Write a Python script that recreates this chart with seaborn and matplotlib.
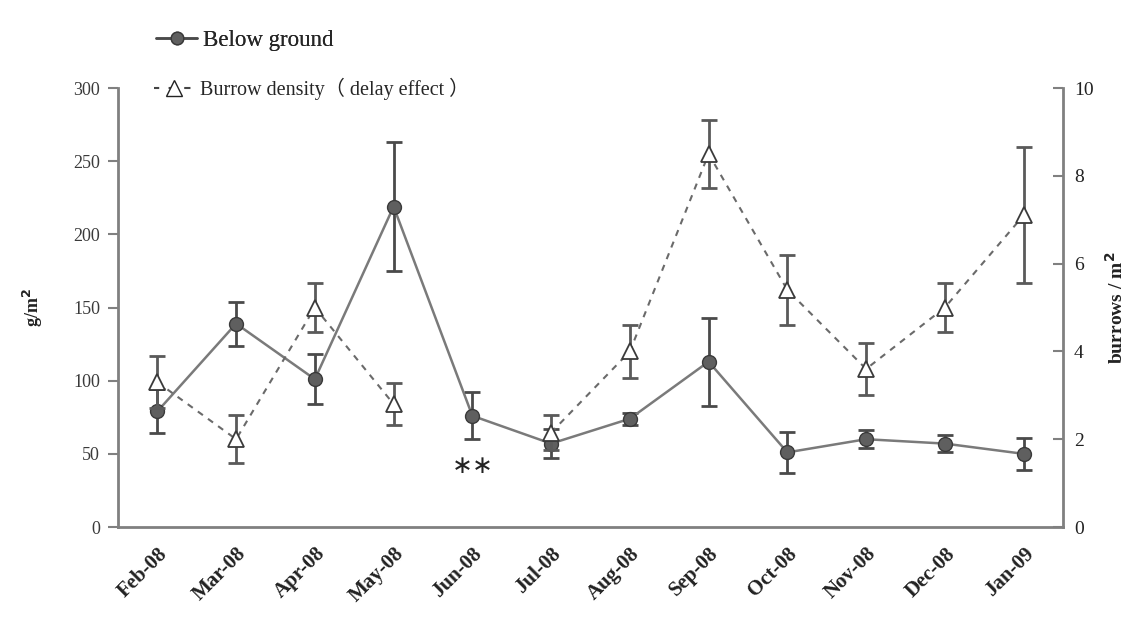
import numpy as np
import pandas as pd
import matplotlib
matplotlib.use("Agg")
import matplotlib.pyplot as plt
from matplotlib.lines import Line2D
import seaborn as sns

months = ["Feb-08", "Mar-08", "Apr-08", "May-08", "Jun-08", "Jul-08",
          "Aug-08", "Sep-08", "Oct-08", "Nov-08", "Dec-08", "Jan-09"]
below_ground = [79, 139, 101, 219, 76, 57, 74, 113, 51, 60, 57, 50]
below_ground_err = [15, 15, 17, 44, 16, 10, 4, 30, 14, 6, 6, 11]
burrow_density = [3.3, 2.0, 5.0, 2.8, np.nan, 2.15, 4.0, 8.5, 5.4, 3.6, 5.0, 7.1]
burrow_density_err = [0.6, 0.55, 0.55, 0.47, np.nan, 0.4, 0.6, 0.78, 0.79, 0.6, 0.56, 1.55]

sns.set_theme(style="white")
plt.rcParams["font.family"] = ["Liberation Serif", "Noto Sans CJK SC", "DejaVu Sans"]

GRAY = "#808080"
pos = np.arange(len(months))

df_bg = pd.DataFrame({"pos": pos, "value": below_ground})
# break the dashed series where a month has no value
seg = np.cumsum(np.isnan(burrow_density))
df_bd = pd.DataFrame({"pos": pos, "value": burrow_density, "seg": seg}).dropna()

fig = plt.figure(figsize=(11.3, 6.2), dpi=100)
ax = fig.add_axes([0.1044, 0.15, 0.8363, 0.708])
ax2 = ax.twinx()

# below-ground biomass (left axis)
ax.errorbar(pos, below_ground, yerr=below_ground_err, fmt="none",
            ecolor="#4a4a4a", elinewidth=2, capsize=6, capthick=2, zorder=2)
sns.lineplot(data=df_bg, x="pos", y="value", ax=ax, color="#7a7a7a",
             linewidth=1.8, marker="o", markersize=10,
             markerfacecolor="#5f5f5f", markeredgecolor="#3a3a3a",
             markeredgewidth=1, zorder=3, legend=False)

# burrow density (right axis)
ax2.errorbar(pos, burrow_density, yerr=burrow_density_err, fmt="none",
             ecolor="#5a5a5a", elinewidth=2, capsize=6, capthick=2, zorder=2)
sns.lineplot(data=df_bd, x="pos", y="value", units="seg", estimator=None,
             ax=ax2, color="#6a6a6a", linewidth=1.5, linestyle=(0, (3, 3)),
             marker="^", markersize=12, markerfacecolor="white",
             markeredgecolor="#3a3a3a", markeredgewidth=1.3, zorder=3,
             legend=False)

ax.set_xlim(-0.5, len(months) - 0.5)
ax.set_ylim(0, 300)
ax2.set_ylim(0, 10)
ax.set_yticks(np.arange(0, 301, 50))
ax2.set_yticks(np.arange(0, 11, 2))

# month boundaries as major ticks, names centred on each month
ax.set_xticks(np.arange(-0.5, len(months), 1.0))
ax.set_xticklabels([])
ax.set_xticks(pos, minor=True)
ax.set_xticklabels(months, minor=True, rotation=45, ha="right",
                   rotation_mode="anchor", fontsize=15, fontweight="bold",
                   color="#222222")
ax.tick_params(axis="x", which="major", direction="inout", length=10,
               width=1.5, color=GRAY)
ax.tick_params(axis="x", which="minor", length=0, pad=12)
ax.tick_params(axis="y", direction="out", length=7, width=1.5, color=GRAY,
               labelsize=13, labelcolor="#3a3a3a", pad=6, left=True)
ax2.tick_params(axis="y", direction="in", length=7, width=1.5, color=GRAY,
                labelsize=14, labelcolor="#222222", pad=8, right=True)

for a in (ax, ax2):
    a.set_xlabel("")
    a.spines["top"].set_visible(False)
    for side in ("left", "right", "bottom"):
        a.spines[side].set_color(GRAY)
        a.spines[side].set_linewidth(2)
ax.spines["right"].set_visible(False)
ax2.spines["left"].set_visible(False)
ax2.spines["bottom"].set_visible(False)

ax.set_ylabel("g/m$^{\\mathbf{2}}$", fontsize=13, fontweight="bold",
              color="#222222", labelpad=20)
ax2.set_ylabel("burrows / m$^{\\mathbf{2}}$", fontsize=14, fontweight="bold",
               color="#222222", labelpad=8)

# significance marker under June
ax.annotate("∗∗", xy=(4, below_ground[4] - below_ground_err[4]),
            xytext=(0, -19), textcoords="offset points", ha="center",
            va="center", fontsize=18, color="#222222",
            family=["DejaVu Sans"])

h1 = Line2D([], [], color="#4a4a4a", linewidth=1.8, marker="o",
            markersize=9, markerfacecolor="#5f5f5f", markeredgecolor="#3a3a3a")
h2 = Line2D([], [], color="#444444", linewidth=1.5, linestyle=(0.5, (3, 4.5)),
            marker="^", markersize=11, markerfacecolor="white",
            markeredgecolor="#222222")
leg1 = fig.legend([h1], ["Below ground"], loc="center left",
                  bbox_to_anchor=(0.124, 0.934), frameon=False, fontsize=16.5,
                  handlelength=1.8, handletextpad=0.25, borderpad=0.2)
leg2 = fig.legend([h2], ["Burrow density（ delay effect ）"], loc="center left",
                  bbox_to_anchor=(0.124, 0.857), frameon=False, fontsize=14.5,
                  handlelength=2.0, handletextpad=0.25, borderpad=0.2)
fig.add_artist(leg1)

fig.savefig("out.png", dpi=100)
